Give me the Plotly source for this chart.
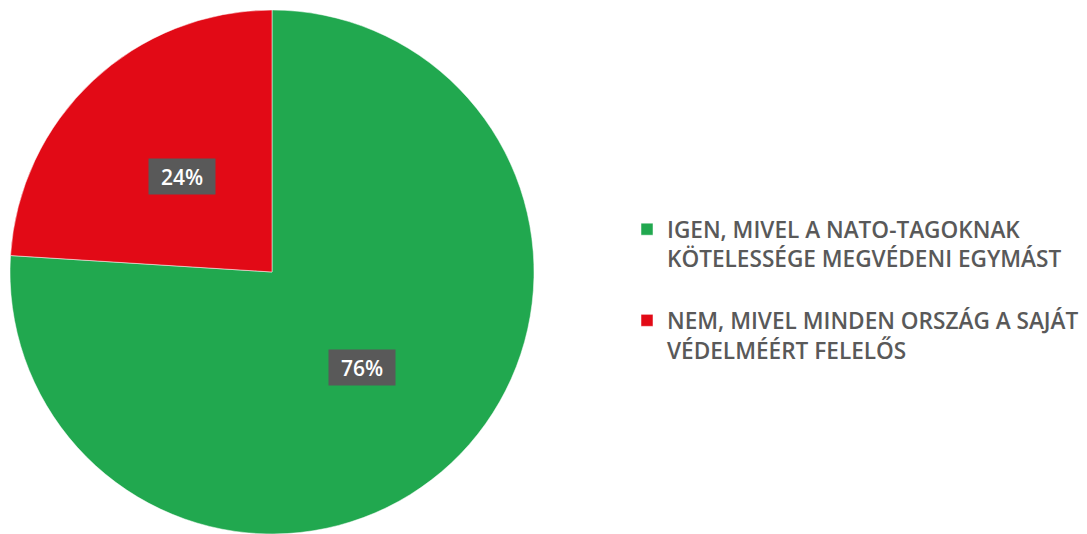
import math
import plotly.graph_objects as go

labels = ["IGEN, MIVEL A NATO-TAGOKNAK<br>KÖTELESSÉGE MEGVÉDENI EGYMÁST<br> ",
          "NEM, MIVEL MINDEN ORSZÁG A SAJÁT<br>VÉDELMÉÉRT FELELŐS"]
values = [76, 24]
colors = ["#21A84F", "#E20A16"]

W, H = 1087, 534
cx, cy, R = 272, 272, 262

fig = go.Figure(go.Pie(
    labels=labels, values=values, sort=False, direction="clockwise", rotation=0,
    marker=dict(colors=colors, line=dict(color="#ffffff", width=0.5)),
    textinfo="none", hoverinfo="percent",
    domain=dict(x=[0, 2 * cx / W], y=[0, 1 - 10 / H]),
))

# value labels with boxed background, positioned at slice mid-angles
total = sum(values)
start = 0.0
for v in values:
    mid = start + v / total * 180.0
    ang = math.radians(mid)
    r = 0.5 * R
    px = cx + r * math.sin(ang)
    py = cy - r * math.cos(ang)
    fig.add_annotation(x=px / W, y=1 - py / H, xref="paper", yref="paper",
                       text=f"{v}%", showarrow=False,
                       font=dict(family="Open Sans", size=21, color="#ffffff", weight=600),
                       bgcolor="#595959", borderpad=5, width=56, height=25,
                       xanchor="center", yanchor="middle")
    start += v / total * 360.0

fig.update_layout(
    width=W, height=H, paper_bgcolor="white", plot_bgcolor="white",
    margin=dict(l=0, r=0, t=0, b=0, autoexpand=False),
    showlegend=True,
    legend=dict(x=627 / W, y=1 - 208 / H, xanchor="left", yanchor="top",
                font=dict(family="Open Sans", size=22.6, color="#595959", weight=600),
                itemwidth=30, valign="top"),
)
fig.write_html("out.html", config={"displayModeBar": False},
               post_script="document.body.style.margin='0px';")
